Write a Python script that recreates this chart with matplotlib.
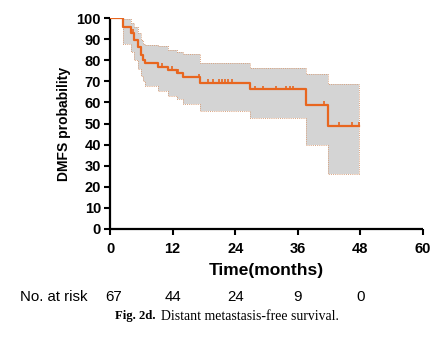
import matplotlib
matplotlib.use("Agg")
import matplotlib.pyplot as plt
import numpy as np

# ---- data ----
step_times = [0, 2.55, 3.97, 4.6, 5.37, 5.94, 6.33, 6.7, 9.2, 11.2, 12.8, 14.0, 17.2, 26.8, 37.6, 41.7, 47.8]
survival   = [100, 95.7, 93, 89.7, 86.5, 82.5, 80, 79, 77, 75.5, 74, 72, 69.4, 66.2, 58.8, 49, 49]
ci_upper   = [100, 99.5, 98, 96, 93, 89.5, 88, 87.3, 87, 85, 84, 83, 79, 76.5, 73.5, 68.8, 68.8]
ci_lower   = [100, 88, 84, 80, 76, 72.5, 70, 68, 65.5, 63, 61.5, 59.5, 56, 52.5, 39.8, 25.9, 25.9]
censor_times = [4.4, 6.0, 9.9, 11.8, 13.0, 17.0, 18.8, 19.8, 20.8, 21.4, 22.0, 22.7, 23.3,
                27.8, 29.3, 31.8, 33.7, 34.5, 35.1, 41.0, 43.8, 46.3, 47.8]
risk_times = [0, 12, 24, 36, 48]
risk_counts = ["67", "44", "24", "9", "0"]
x_ticks = [0, 12, 24, 36, 48, 60]
y_ticks = list(range(0, 101, 10))

ORANGE = "#E8661F"
BAND = "#D4D4D4"
EDGE = "#D9A27E"

fig = plt.figure(figsize=(4.39, 3.40), dpi=100)
ax = fig.add_axes([0.2506, 0.3274, 0.7130, 0.6186])

t = np.array(step_times)
s = np.array(survival)
ax.fill_between(t, ci_lower, ci_upper, step="post", color=BAND, lw=0, zorder=1)
ax.step(t, ci_upper, where="post", color=EDGE, lw=0.7, ls=(0, (1, 1.2)), zorder=2)
ax.step(t, ci_lower, where="post", color=EDGE, lw=0.7, ls=(0, (1, 1.2)), zorder=2)
ax.plot([t[-1], t[-1]], [ci_lower[-1], ci_upper[-1]], color=EDGE, lw=0.7, ls=(0, (1, 1.2)), zorder=2)
ax.step(t, s, where="post", color=ORANGE, lw=1.6, zorder=3)

# censor marks
cs = [s[np.searchsorted(t, c, side="right") - 1] for c in censor_times]
ax.plot(censor_times, np.array(cs) + 0.8, ls="none", marker="|", ms=3.5, mew=1.2, color=ORANGE, zorder=4)

ax.set_xlim(0, 60)
ax.set_ylim(0, 100)
ax.set_xticks(x_ticks)
ax.set_yticks(y_ticks)
for sp in ["top", "right"]:
    ax.spines[sp].set_visible(False)
for sp in ["left", "bottom"]:
    ax.spines[sp].set_linewidth(1.6)
    ax.spines[sp].set_capstyle("butt")
ax.tick_params(axis="both", direction="out", length=4.5, width=1.5, pad=3)

fam = ["Liberation Sans", "DejaVu Sans"]
for lab in ax.get_xticklabels() + ax.get_yticklabels():
    lab.set_fontfamily(fam)
    lab.set_fontweight("bold")
    lab.set_fontsize(10.5)
ax.tick_params(axis="y", pad=2)
ax.tick_params(axis="x", pad=5)

ax.set_xlabel("Time(months)", fontfamily=fam, fontweight="bold", fontsize=12.5, labelpad=5)
ax.set_ylabel("DMFS probability", fontfamily=fam, fontweight="bold", fontsize=10, labelpad=4)

# number at risk row
fig.text(20 / 439, 1 - 297 / 340, "No. at risk", fontfamily=fam, fontsize=10.8,
         ha="left", va="center")
for rt, rc in zip(risk_times, risk_counts):
    xpix = 110 + (423 - 110) * rt / 60.0 + (4 if rt == 0 else 0)
    fig.text(xpix / 439, 1 - 297 / 340, rc, fontfamily=fam, fontsize=10.8,
             ha="center", va="center")

# caption
sfam = ["Liberation Serif", "DejaVu Serif"]
fig.text(115 / 439, 1 - 316 / 340, "Fig. 2d.", fontfamily=sfam, fontweight="bold",
         fontsize=9.2, ha="left", va="center")
fig.text(161 / 439, 1 - 316 / 340, "Distant metastasis-free survival.", fontfamily=sfam,
         fontsize=9.9, ha="left", va="center")

fig.savefig("out.png", dpi=100)
